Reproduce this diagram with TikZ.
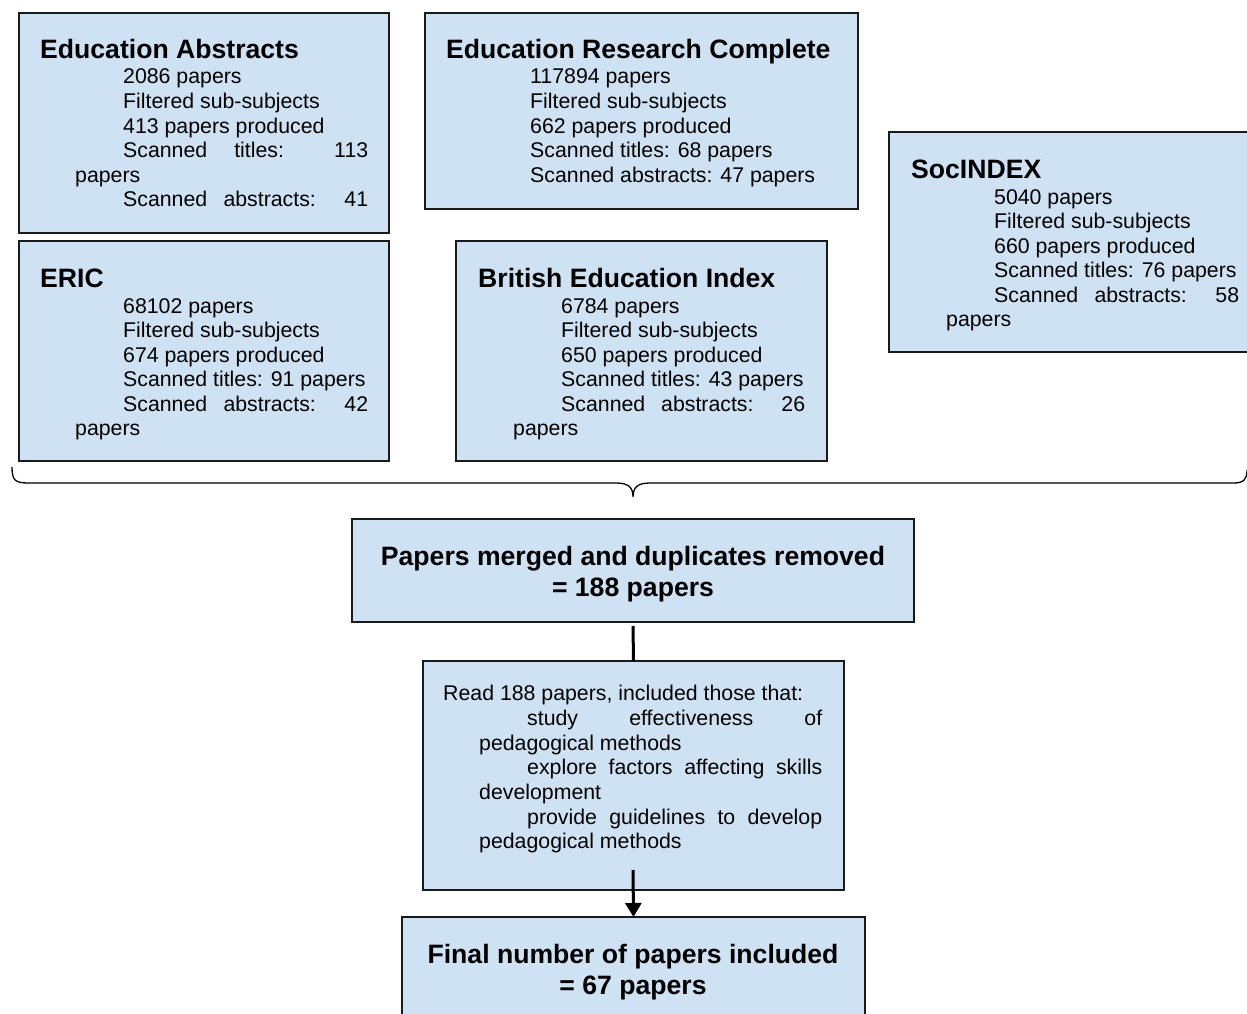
\documentclass[tikz,border=0pt]{standalone}
\usepackage{fontspec}
\setmainfont{Liberation Sans}
\usetikzlibrary{arrows.meta}
\definecolor{boxfill}{HTML}{CFE2F3}
\definecolor{edge}{HTML}{1A1A1A}
\begin{document}
\begin{tikzpicture}[x=1pt,y=-1pt,
  box/.style={draw=edge, line width=1.5pt, fill=boxfill, inner sep=0pt, outer sep=0pt, rectangle, anchor=north west},
  ttl/.style={anchor=base west, inner sep=0pt, font=\fontsize{26.6}{30}\selectfont\bfseries},
  txt/.style={anchor=base west, inner sep=0pt, font=\fontsize{21.3}{24}\selectfont},
  bigc/.style={anchor=base, inner sep=0pt, font=\fontsize{26.6}{31}\selectfont\bfseries},
  conn/.style={draw=black, line width=3pt},
  bracepath/.style={draw=black, line width=1.3pt}]
\clip (0,0) rectangle (1247,1014);
\fill[white] (0,0) rectangle (1247,1014);

% Education Abstracts
\node[box, minimum width=370pt, minimum height=220pt] (ea) at (19,13) {};
\node[ttl] (eat) at (40,59) {Education Abstracts};
\node[txt] (ea1) at (123,84) {2086 papers};
\node[txt] (ea2) at (123,108.5) {Filtered sub-subjects};
\node[txt] (ea3) at (123,133) {413 papers produced};
\node[txt] (ea4) at (123,157.5) {\makebox[245pt][s]{Scanned titles: 113}};
\node[txt] (ea5) at (75,182) {papers};
\node[txt] (ea6) at (123,206.5) {\makebox[245pt][s]{Scanned abstracts: 41}};

% ERIC
\node[box, minimum width=370pt, minimum height=220pt] (er) at (19,241) {};
\node[ttl] (ert) at (40,287) {ERIC};
\node[txt] (er1) at (123,313) {68102 papers};
\node[txt] (er2) at (123,337.5) {Filtered sub-subjects};
\node[txt] (er3) at (123,362) {674 papers produced};
\node[txt] (er4) at (123,386.5) {Scanned titles: 91 papers};
\node[txt] (er5) at (123,411) {\makebox[245pt][s]{Scanned abstracts: 42}};
\node[txt] (er6) at (75,435.5) {papers};

% Education Research Complete
\node[box, minimum width=433pt, minimum height=196pt] (erc) at (425,13) {};
\node[ttl] (erct) at (446,59) {Education Research Complete};
\node[txt] (erc1) at (530,84) {117894 papers};
\node[txt] (erc2) at (530,108.5) {Filtered sub-subjects};
\node[txt] (erc3) at (530,133) {662 papers produced};
\node[txt] (erc4) at (530,157.5) {Scanned titles: 68 papers};
\node[txt] (erc5) at (530,182) {Scanned abstracts: 47 papers};

% British Education Index
\node[box, minimum width=371pt, minimum height=220pt] (bei) at (456,241) {};
\node[ttl] (beit) at (478,287) {British Education Index};
\node[txt] (bei1) at (561,313) {6784 papers};
\node[txt] (bei2) at (561,337.5) {Filtered sub-subjects};
\node[txt] (bei3) at (561,362) {650 papers produced};
\node[txt] (bei4) at (561,386.5) {Scanned titles: 43 papers};
\node[txt] (bei5) at (561,411) {\makebox[244pt][s]{Scanned abstracts: 26}};
\node[txt] (bei6) at (513,435.5) {papers};

% SocINDEX
\node[box, minimum width=380pt, minimum height=220pt] (soc) at (889,132) {};
\node[ttl] (soct) at (911,178) {SocINDEX};
\node[txt] (soc1) at (994,204) {5040 papers};
\node[txt] (soc2) at (994,228.5) {Filtered sub-subjects};
\node[txt] (soc3) at (994,253) {660 papers produced};
\node[txt] (soc4) at (994,277.5) {Scanned titles: 76 papers};
\node[txt] (soc5) at (994,302) {\makebox[245pt][s]{Scanned abstracts: 58}};
\node[txt] (soc6) at (946,326.5) {papers};

% brace
\draw[bracepath] (12,467) .. controls (12,480) and (15,483) .. (28,483)
  -- (616,483) .. controls (628,483) and (633,487) .. (633,497)
  .. controls (633,487) and (638,483) .. (650,483)
  -- (1234,483) .. controls (1244,483) and (1247,479) .. (1247,470);

% merged
\node[box, minimum width=562pt, minimum height=103pt] (merged) at (352,519) {};
\node[bigc] (mg1) at (633,565.5) {Papers merged and duplicates removed};
\node[bigc] (mg2) at (633,596.5) {= 188 papers};

% read
\node[box, minimum width=421pt, minimum height=229pt] (read) at (423,661) {};
\node[txt] (rd0) at (443,700) {Read 188 papers, included those that:};
\node[txt] (rd1) at (527,725) {\makebox[295pt][s]{study effectiveness of}};
\node[txt] (rd2) at (479,750) {pedagogical methods};
\node[txt] (rd3) at (527,774) {\makebox[295pt][s]{explore factors affecting skills}};
\node[txt] (rd4) at (479,799) {development};
\node[txt] (rd5) at (527,824) {\makebox[295pt][s]{provide guidelines to develop}};
\node[txt] (rd6) at (479,848) {pedagogical methods};

% final
\node[box, minimum width=463pt, minimum height=110pt] (final) at (402,917) {};
\node[bigc] (fn1) at (633,963.5) {Final number of papers included};
\node[bigc] (fn2) at (633,994.5) {= 67 papers};

% connectors
\draw[conn] ([yshift=-4pt]merged.south) -- (read.north);
\coordinate (arrs) at (633,870);
\draw[conn, -{Triangle[length=14pt,width=16pt]}] (arrs) -- (final.north);
\end{tikzpicture}
\end{document}
